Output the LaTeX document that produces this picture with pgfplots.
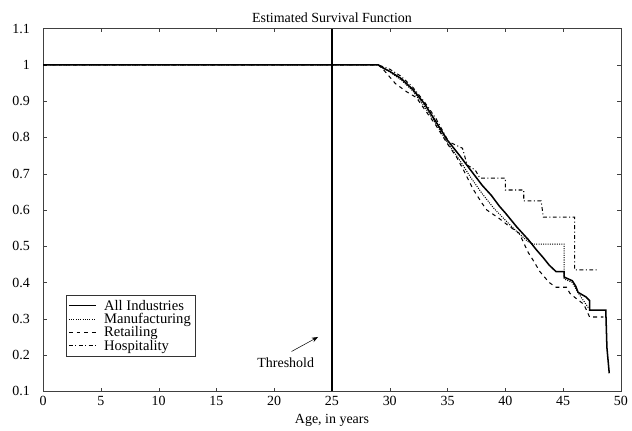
\documentclass[border=0pt]{standalone}
\usepackage{fontspec}
\setmainfont{Liberation Serif}
\usepackage{pgfplots}
\pgfplotsset{compat=1.18}
\usetikzlibrary{arrows.meta}

\begin{document}
\begin{tikzpicture}[font=\fontsize{11}{13}\selectfont]
\begin{axis}[
  scale only axis,
  width=16cm, height=10.05cm,
  xmin=0, xmax=50, ymin=0.1, ymax=1.1,
  xtick={0,5,...,50},
  ytick={0.1,0.2,...,1.1},
  yticklabel style={/pgf/number format/fixed,/pgf/number format/precision=1,xshift=-7pt},
  /pgf/number format/assume math mode=true,
  tick label style={font=\fontsize{11}{13}\selectfont},
  label style={font=\fontsize{11}{13}\selectfont},
  tick align=inside,
  major tick length=3pt,
  axis line style={black!75},
  tick style={black!75},
  title={Estimated Survival Function},
  xlabel={Age, in years},
  title style={font=\fontsize{11}{13}\selectfont,yshift=-5pt},
  legend style={at={(axis cs:2.0,0.365)},anchor=north west,draw=black!80,
    font=\fontsize{11.5}{13}\selectfont,row sep=-3pt,column sep=4pt,inner sep=1.5pt},
  legend cell align=left,
  legend image code/.code={\draw[#1,line width=0.8pt] (0cm,0cm) -- (0.75cm,0cm);},
]
% All Industries
\addplot[black,line width=1.2pt] coordinates {
 (0,1) (29,1) (29.5,0.99) (30,0.982) (31,0.962) (32,0.932) (33,0.893) (34,0.843)
 (35,0.792) (36,0.752) (37,0.71) (38,0.668) (38.8,0.64) (39.5,0.61) (40,0.592)
 (41,0.553) (42,0.518) (42.7,0.49) (43.3,0.468) (43.8,0.448) (44.4,0.43) (45.1,0.43)
 (45.1,0.415) (45.8,0.405) (46.1,0.39) (46.3,0.373) (47,0.36) (47.3,0.35)
 (47.3,0.324) (48.7,0.324) (48.8,0.22) (49,0.15)
};
% Manufacturing
\addplot[black,line width=0.8pt,densely dotted] coordinates {
 (0,1) (29,1) (29.8,0.985) (31,0.958) (32,0.928) (33,0.885) (34,0.838) (35,0.785)
 (36,0.74) (37,0.69) (38,0.645) (39,0.605) (40,0.572) (41,0.54) (42,0.512)
 (42.4,0.506) (45.1,0.506) (45.1,0.41) (45.8,0.4) (46.3,0.372) (47.2,0.33)
};
% Retailing
\addplot[black,line width=0.8pt,dashed] coordinates {
 (0,1) (29,1) (29.5,0.985) (30.5,0.948) (31.5,0.925) (32.3,0.91) (33,0.878)
 (34,0.833) (35,0.782) (35.8,0.745) (36.5,0.703) (37.2,0.658) (38,0.618)
 (38.4,0.6) (39.5,0.576) (40.3,0.556) (41.2,0.536) (42,0.482) (42.4,0.462)
 (43,0.43) (43.8,0.4) (44.4,0.387) (45.3,0.387) (45.6,0.37) (46.1,0.357)
 (46.8,0.34) (47.3,0.305) (48.5,0.305)
};
% Hospitality
\addplot[black,line width=0.8pt,dash dot] coordinates {
 (0,1) (29,1) (30,0.988) (31,0.968) (32,0.938) (33,0.898) (34,0.852) (35.1,0.788)
 (36.3,0.77) (36.7,0.724) (37.4,0.71) (37.8,0.688) (40,0.688) (40,0.655)
 (41.6,0.655) (41.6,0.625) (43.1,0.625) (43.3,0.58) (46,0.58) (46,0.435) (48,0.435)
};
\legend{All Industries,Manufacturing,Retailing,Hospitality}
% threshold
\addplot[black,line width=1.6pt,forget plot] coordinates {(25,0.1) (25,1.1)};
\draw[-{Stealth[length=5pt]},black] (axis cs:21.5,0.21) -- (axis cs:23.8,0.25);
\node at (axis cs:21.0,0.18) {Threshold};
\end{axis}
\path (current axis.south west) ++(-34pt,0pt) coordinate (padleft);
\path (current axis.north west) ++(0pt,22.5pt) coordinate (padtop);
\end{tikzpicture}
\end{document}
